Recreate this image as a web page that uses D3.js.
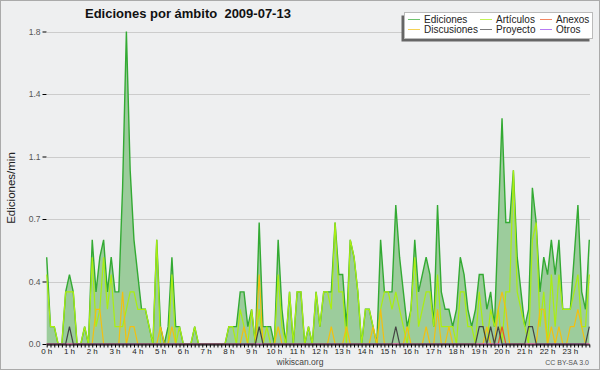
<!DOCTYPE html>
<html lang="es">
<head>
<meta charset="UTF-8">
<title>Ediciones por ámbito 2009-07-13</title>
<script src="https://cdnjs.cloudflare.com/ajax/libs/d3/7.8.5/d3.min.js"></script>
<style>
  body { margin: 0; background: #fff; }
  svg { display: block; font-family: "Liberation Sans", Arial, sans-serif; }
  .grid line { stroke: #cccccc; }
</style>
</head>
<body>
<svg id="chart" width="600" height="370"></svg>
<script>
// one value every 10 minutes (144 slots), edits per minute
const ediciones = [
  0.5,0.1,0.1,0,0,0.3, 0.4,0.3,0,0,0.1,0, 0.6,0.3,0.5,0.6,0.3,0.5,
  0.3,0.3,0.9,1.8,1.0,0.6, 0.4,0.2,0.2,0.1,0,0.6, 0.1,0,0.1,0.5,0.1,0.1,
  0,0,0,0.1,0,0, 0,0,0,0,0,0, 0.1,0.1,0.1,0.3,0.3,0.1,
  0.2,0,0.7,0.1,0.1,0.1, 0,0.6,0.2,0,0.3,0, 0.3,0.3,0,0.1,0,0.3,
  0.1,0.3,0.3,0.3,0.7,0.4, 0.4,0.1,0.6,0.5,0.3,0, 0.2,0.2,0.1,0,0.6,0.3,
  0.3,0.3,0.8,0.5,0.3,0.1, 0.2,0.6,0.3,0.4,0.5,0.4, 0.1,0.8,0.3,0.2,0.2,0.1,
  0.2,0.5,0.4,0.2,0.1,0.2, 0.4,0.4,0.2,0.3,0.1,0.7, 1.3,0.7,0.7,1.0,0.5,0.3,
  0.1,0.2,0.9,0.7,0.3,0.5, 0.4,0.6,0.4,0.6,0.2,0.2, 0.2,0.5,0.8,0.3,0.2,0.6
];
const articulos = [
  0.4,0.1,0.1,0,0,0.3, 0.3,0.3,0,0,0.1,0, 0.5,0.1,0.2,0.5,0.2,0.4,
  0.1,0.1,0.1,0.2,0.3,0.3, 0.2,0.2,0.2,0.1,0,0.6, 0,0,0,0.4,0,0.1,
  0,0,0,0.1,0,0, 0,0,0,0,0,0, 0.1,0.1,0,0.2,0.1,0,
  0.2,0,0.2,0,0.1,0, 0,0.4,0.1,0,0.3,0, 0.3,0.3,0,0.1,0,0.3,
  0.1,0.3,0.3,0.2,0.7,0.3, 0.3,0,0.6,0.5,0.3,0, 0.2,0.2,0.1,0,0.2,0.3,
  0.3,0.2,0.3,0.2,0.1,0, 0.2,0.5,0.1,0.2,0.3,0.3, 0.1,0.4,0.1,0.1,0.1,0.1,
  0,0.3,0.3,0.1,0.1,0, 0.3,0.1,0,0.2,0.1,0.2, 0,0.3,0.3,1.0,0.3,0.2,
  0.1,0,0.6,0.7,0.1,0.3, 0,0.4,0.1,0.4,0.2,0.2, 0.2,0.3,0.4,0.1,0.1,0.4
];
const discusiones = [
  0,0,0,0,0,0, 0,0,0,0,0,0, 0,0.2,0.2,0,0,0,
  0,0,0.3,0,0.1,0.1, 0,0,0,0,0,0, 0.1,0,0,0.1,0,0,
  0,0,0,0,0,0, 0,0,0,0,0,0, 0,0,0,0,0.1,0,
  0,0,0.4,0,0,0, 0,0.1,0,0,0,0, 0,0,0,0,0,0,
  0,0,0,0.1,0,0, 0,0.1,0,0,0,0, 0,0,0.1,0,0.2,0,
  0,0,0,0,0,0.1, 0,0,0,0,0.1,0, 0,0.2,0,0,0.1,0,
  0,0,0,0,0,0, 0,0,0.1,0,0,0.2, 0.3,0.2,0,0,0,0,
  0,0,0,0,0.2,0.2, 0,0.1,0,0.1,0,0, 0.1,0.1,0.2,0.1,0,0
];
const proyecto = [
  0,0,0,0,0,0, 0.1,0,0,0,0,0, 0,0,0,0,0,0,
  0,0,0,0,0,0, 0,0,0,0,0,0, 0,0,0,0,0,0,
  0,0,0,0,0,0, 0,0,0,0,0,0, 0,0,0,0,0,0,
  0,0,0.1,0,0,0, 0,0,0,0,0,0, 0,0,0,0,0,0,
  0,0,0,0,0,0, 0,0,0,0,0,0, 0,0,0,0,0,0,
  0,0,0.1,0,0,0, 0,0,0,0,0,0, 0,0,0,0,0,0,
  0,0,0,0,0,0, 0.1,0.1,0,0.1,0,0.1, 0,0,0,0,0,0,
  0,0.1,0.1,0,0,0, 0,0,0,0,0,0, 0,0,0,0,0,0.1
];
const anexos = [
  0,0,0,0,0,0, 0,0,0,0,0,0, 0,0,0,0,0,0,
  0,0,0,0,0,0, 0,0,0,0,0,0, 0,0,0,0,0,0,
  0,0,0,0,0,0, 0,0,0,0,0,0, 0,0,0,0,0,0,
  0,0,0,0,0,0, 0,0,0,0,0,0, 0,0,0,0,0,0,
  0,0,0,0,0,0, 0,0,0,0,0,0, 0,0,0,0,0,0,
  0,0,0,0,0,0, 0,0,0,0,0,0, 0,0,0,0,0,0,
  0,0,0,0,0,0, 0,0,0,0,0,0, 0.1,0,0,0,0,0,
  0,0,0,0,0,0, 0,0,0,0,0,0, 0,0,0,0,0,0
];
const otros = new Array(144).fill(0);

const hourLabels = d3.range(24).map(h => h + " h");
const yTicks = [0, 0.36, 0.72, 1.08, 1.44, 1.8];

const series = [
  { name: "Ediciones",   values: ediciones,   color: "#33aa33" },
  { name: "Artículos",   values: articulos,   color: "#aaee11" },
  { name: "Anexos",      values: anexos,      color: "#ee5522" },
  { name: "Discusiones", values: discusiones, color: "#f2c010" },
  { name: "Proyecto",    values: proyecto,    color: "#444444" },
  { name: "Otros",       values: otros,       color: "#9944ee" }
];

const W = 600, H = 370;
const svg = d3.select("#chart");

svg.append("rect")
  .attr("x", 0.5).attr("y", 0.5).attr("width", W - 1).attr("height", H - 1)
  .attr("fill", "#eeeff0").attr("stroke", "#aaaaaa");

const x = d3.scaleLinear().domain([0, 143 / 6]).range([46.7, 589.3]);
const y = d3.scaleLinear().domain([0, 1.8]).range([344, 31.5]);

// gridlines
svg.append("g").attr("class", "grid")
  .selectAll("line").data(yTicks.slice(1)).join("line")
  .attr("x1", 47).attr("x2", 590)
  .attr("y1", d => Math.round(y(d)) + 0.5).attr("y2", d => Math.round(y(d)) + 0.5);

// total area
const pts = v => v.map((d, i) => [i / 6, d]);
const area = d3.area().x(d => x(d[0])).y0(y(0)).y1(d => y(d[1]));
const line = d3.line().x(d => x(d[0])).y(d => y(d[1]));

svg.append("path").datum(pts(ediciones))
  .attr("d", area).attr("fill", "#9ccc9c");

const drawOrder = ["Ediciones", "Artículos", "Discusiones", "Anexos", "Otros", "Proyecto"];
drawOrder.forEach(n => {
  const s = series.find(d => d.name === n);
  svg.append("path").datum(pts(s.values))
    .attr("d", line)
    .attr("fill", "none")
    .attr("stroke", s.color)
    .attr("stroke-width", n === "Ediciones" ? 1.4 : 1.2)
    .attr("stroke-linejoin", "miter");
});

// y axis
const yAxis = svg.append("g").attr("transform", "translate(46.5,0)");
yAxis.call(d3.axisLeft(y).tickValues(d3.range(0, 21).map(k => k * 0.09))
    .tickSize(4).tickFormat(""))
  .call(g => g.select(".domain").attr("stroke", "#000"));
yAxis.call(d3.axisLeft(y).tickValues(yTicks).tickSize(4).tickPadding(2)
    .tickFormat(d3.format(".1f")))
  .call(g => g.selectAll(".domain").remove())
  .call(g => g.selectAll("text").attr("font-size", 8.5).attr("fill", "#555")
    .attr("font-family", "Liberation Sans, Arial, sans-serif"));

// x axis
const xAxis = svg.append("g").attr("transform", "translate(0,344.5)");
xAxis.call(d3.axisBottom(x).tickValues(d3.range(0, 144).map(k => k / 6))
    .tickSize(3).tickFormat("").tickSizeOuter(0))
  .call(g => g.select(".domain").attr("stroke", "#000").attr("stroke-width", 1.2));
xAxis.selectAll(".tick line").attr("stroke", "#000");
xAxis.append("g").selectAll("text").data(hourLabels).join("text")
  .attr("x", (d, i) => x(i))
  .attr("y", 9)
  .attr("text-anchor", "middle")
  .attr("font-size", 8)
  .attr("fill", "#222")
  .text(d => d);

// title
svg.append("text")
  .attr("x", 85).attr("y", 18)
  .attr("font-size", 13).attr("font-weight", "bold").attr("fill", "#111")
  .attr("xml:space", "preserve")
  .text("Ediciones por ámbito  2009-07-13");

// y label
svg.append("text")
  .attr("transform", "translate(15,188) rotate(-90)")
  .attr("text-anchor", "middle")
  .attr("font-size", 11.5).attr("fill", "#222")
  .text("Ediciones/min");

// footer
svg.append("text").attr("x", 300).attr("y", 364.5).attr("text-anchor", "middle")
  .attr("font-size", 8.5).attr("fill", "#444").text("wikiscan.org");
svg.append("text").attr("x", 589).attr("y", 365).attr("text-anchor", "end")
  .attr("font-size", 7).attr("fill", "#555").text("CC BY-SA 3.0");

// legend
const lg = svg.append("g");
lg.append("rect").attr("x", 401.5).attr("y", 15.5).attr("width", 188).attr("height", 26)
  .attr("fill", "#666");
lg.append("rect").attr("x", 404.5).attr("y", 12.5).attr("width", 188).attr("height", 26)
  .attr("fill", "#fff").attr("stroke", "#bbb");
const legendCols = [408, 480, 540];
series.forEach((s, i) => {
  const cx = legendCols[i % 3], cy = i < 3 ? 19.5 : 29.5;
  lg.append("line").attr("x1", cx).attr("x2", cx + 12).attr("y1", cy).attr("y2", cy)
    .attr("stroke", s.color).attr("stroke-width", 1).attr("opacity", 0.7);
  lg.append("text").attr("x", cx + 16).attr("y", cy + 3.5)
    .attr("font-size", 10).attr("fill", "#222").text(s.name);
});
</script>
</body>
</html>
